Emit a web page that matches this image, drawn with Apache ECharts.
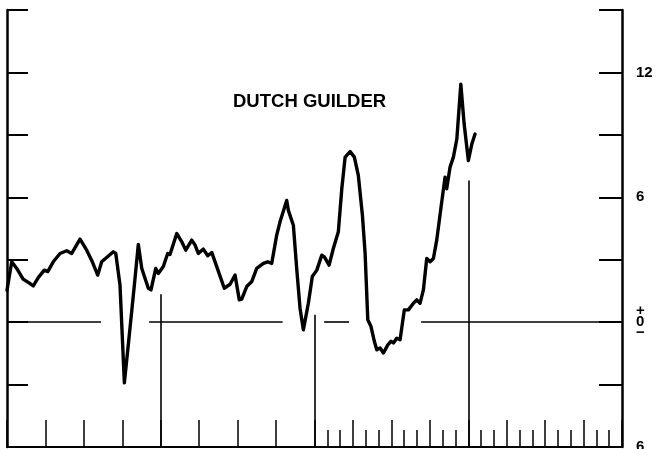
<!DOCTYPE html>
<html>
<head>
<meta charset="utf-8">
<script src="https://cdn.jsdelivr.net/npm/echarts@6/dist/echarts.min.js"></script>
<style>
  html, body { margin: 0; padding: 0; background: #fff; }
  #chart { width: 665px; height: 449px; }
</style>
</head>
<body>
<div id="chart"></div>
<script>
// ---- data (x in months from start of the period, y in per cent) ----
const months = [0, 0.37, 0.76, 1.27, 1.66, 2.05, 2.44, 2.91, 3.18, 3.61, 4.14, 4.66, 5.05, 5.70, 6.22, 6.66, 7.08, 7.39, 7.52,
  8.30, 8.49, 8.82, 9.16, 9.60, 9.94, 10.25, 10.52, 11.03, 11.24, 11.61, 11.81, 12.20, 12.54, 12.72, 13.25, 13.64, 13.95,
  14.42, 14.68, 14.93, 15.32, 15.67, 15.98, 16.37, 16.96, 17.41, 17.80, 18.13, 18.32, 18.71, 19.10, 19.49, 20.01, 20.35,
  20.66, 21.05, 21.31, 21.83, 21.96, 22.35, 22.61, 22.87, 23.13, 23.52, 23.83, 24.18, 24.57, 24.77, 25.14, 25.47, 25.86,
  26.13, 26.39, 26.78, 27.11, 27.42, 27.74, 27.95, 28.16, 28.41, 28.67, 28.86, 29.12, 29.38, 29.72, 29.98, 30.16, 30.42,
  30.68, 31.01, 31.33, 31.72, 31.98, 32.24, 32.50, 32.76, 33.02, 33.28, 33.54, 33.88, 34.19, 34.32, 34.58, 34.84, 35.11,
  35.42, 35.68, 36.01, 36.28, 36.53];
const values = [1.53, 2.90, 2.58, 2.06, 1.91, 1.74, 2.14, 2.50, 2.43, 2.90, 3.30, 3.43, 3.30, 3.99, 3.46, 2.90, 2.26, 2.90, 2.98,
  3.38, 3.30, 1.78, -2.92, -0.29, 1.78, 3.73, 2.58, 1.63, 1.55, 2.58, 2.34, 2.67, 3.30, 3.25, 4.26, 3.86, 3.46,
  3.94, 3.70, 3.30, 3.51, 3.19, 3.35, 2.67, 1.63, 1.82, 2.26, 1.07, 1.11, 1.71, 1.95, 2.58, 2.82, 2.90,
  2.82, 4.18, 4.82, 5.85, 5.37, 4.66, 2.58, 0.67, -0.37, 0.91, 2.19, 2.50, 3.22, 3.14, 2.74, 3.54, 4.34,
  6.41, 7.93, 8.20, 7.93, 7.05, 5.13, 3.30, 0.11, -0.21, -0.92, -1.33, -1.24, -1.48, -1.09, -0.92, -1.00, -0.77,
  -0.85, 0.59, 0.59, 0.91, 1.07, 0.91, 1.55, 3.06, 2.90, 3.06, 3.94, 5.54, 6.97, 6.41, 7.45, 7.93, 8.80,
  11.44, 9.52, 7.77, 8.56, 9.04];
const rightLabels = { '12': '12', '6': '6', '0': '+\n0\n\u2212', '-6': '6' };
const zeroSegments = [[0, 7.34], [11.09, 21.51], [24.75, 26.7], [32.32, 48]];
const yearLines = [[12, 1.34], [24, 0.35], [36, 6.81]];
const title = 'DUTCH GUILDER';

const INK = '#000';
const pts = months.map((m, i) => [m, values[i]]);
const monthCats = Array.from({ length: 49 }, (_, i) => String(i));

const markData = [];
zeroSegments.forEach(s => markData.push([{ coord: [s[0], 0] }, { coord: [s[1], 0] }]));
yearLines.forEach(l => markData.push([{ coord: [l[0], -6] }, { coord: [l[0], l[1]] }]));

const chart = echarts.init(document.getElementById('chart'), null, { renderer: 'canvas' });
chart.setOption({
  animation: false,
  backgroundColor: '#fff',
  grid: { left: 7, right: 43, top: 10, bottom: 2, containLabel: false, outerBoundsMode: 'none' },
  graphic: [{
    type: 'text', left: 233, top: 92,
    style: { text: title, fill: INK, font: 'bold 18.5px "Liberation Sans", Arial, sans-serif' }
  }],
  xAxis: [{
    type: 'value', min: 0, max: 48, interval: 3, position: 'bottom',
    axisLine: { show: true, onZero: false, lineStyle: { color: INK, width: 2 } },
    axisTick: { show: true, inside: true, length: 27, lineStyle: { color: INK, width: 1.5 } },
    axisLabel: { show: false }, splitLine: { show: false }
  }, {
    type: 'category', data: monthCats, boundaryGap: false, position: 'bottom',
    axisLine: { show: false, onZero: false },
    axisTick: { show: true, inside: true, length: 17, alignWithLabel: true,
      interval: (i) => i > 24 && i < 48 && i % 3 !== 0,
      lineStyle: { color: INK, width: 1.5 } },
    axisLabel: { show: false }, splitLine: { show: false }
  }],
  yAxis: [{
    type: 'value', min: -6, max: 15, interval: 3, position: 'left',
    axisLine: { show: true, onZero: false, lineStyle: { color: INK, width: 2.5 } },
    axisTick: { show: true, inside: true, length: 21, lineStyle: { color: INK, width: 2 } },
    axisLabel: { show: false }, splitLine: { show: false }
  }, {
    type: 'value', min: -6, max: 15, interval: 3, position: 'right',
    axisLine: { show: true, onZero: false, lineStyle: { color: INK, width: 2.5 } },
    axisTick: { show: true, inside: true, length: 23, lineStyle: { color: INK, width: 2 } },
    axisLabel: {
      show: true, margin: 14, color: INK, fontWeight: 'bold', fontSize: 15, lineHeight: 11,
      fontFamily: '"Liberation Sans", Arial, sans-serif',
      formatter: (v) => rightLabels[String(v)] || ''
    },
    splitLine: { show: false }
  }],
  series: [{
    type: 'line', xAxisIndex: 0, yAxisIndex: 0, data: pts,
    showSymbol: false, symbol: 'none', smooth: false,
    lineStyle: { color: INK, width: 3.4, join: 'round', cap: 'round' },
    markLine: {
      silent: true, symbol: ['none', 'none'], label: { show: false },
      lineStyle: { color: INK, width: 1.6, type: 'solid' },
      emphasis: { disabled: true },
      data: markData
    }
  }]
});
</script>
</body>
</html>
